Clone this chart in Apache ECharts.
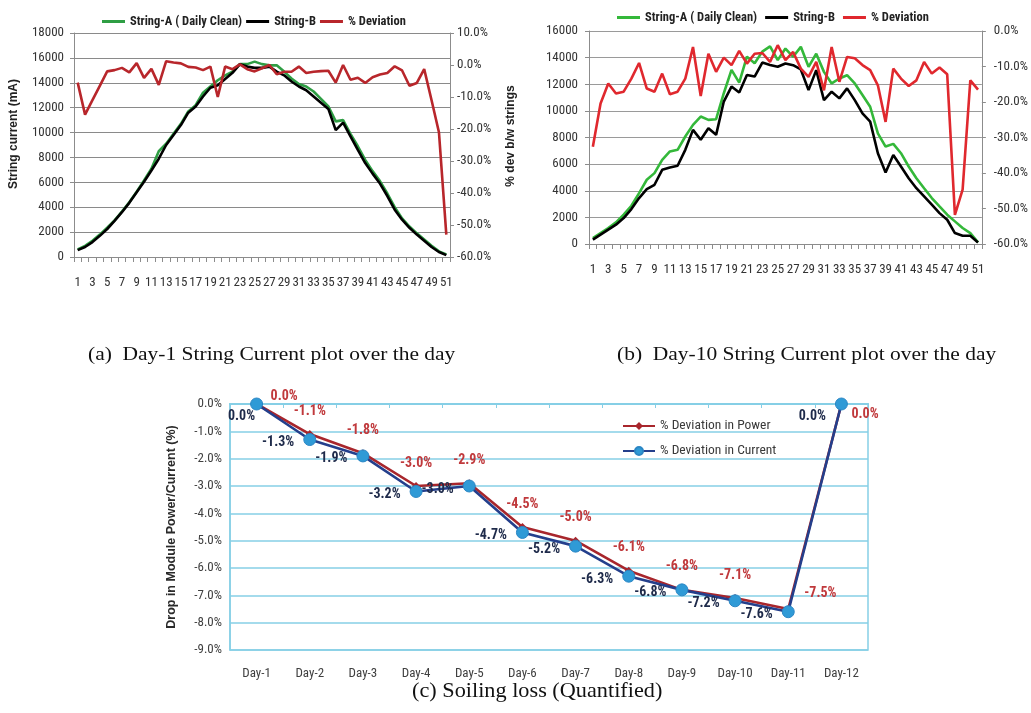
<!DOCTYPE html>
<html>
<head>
<meta charset="utf-8">
<script src="https://cdn.jsdelivr.net/npm/echarts@6/dist/echarts.min.js"></script>
<style>
  html, body { margin:0; padding:0; background:#fff; }
  #wrap { position:relative; width:1031px; height:713px; overflow:hidden; }
  .layer { position:absolute; left:0; top:0; width:1031px; height:713px; }
  .cap { position:absolute; font-family:'Liberation Serif','Times New Roman',serif; color:#111; white-space:nowrap; transform-origin:0 50%; }
</style>
</head>
<body>
<div id="wrap">
  <div id="ca" class="layer"></div>
  <div id="cb" class="layer"></div>
  <div id="cc" class="layer"></div>
  <div class="cap" style="left:88px; top:343px; font-size:19px; transform:scaleX(1.13);">(a)&nbsp; Day-1 String Current plot over the day</div>
  <div class="cap" style="left:617px; top:343px; font-size:19px; transform:scaleX(1.13);">(b)&nbsp; Day-10 String Current plot over the day</div>
  <div class="cap" style="left:412px; top:678px; font-size:21px; transform:scaleX(1.06);">(c) Soiling loss (Quantified)</div>
</div>
<script>
// ---------- data ----------
const timeSlots = ['1','2','3','4','5','6','7','8','9','10','11','12','13','14','15','16','17','18','19','20','21','22','23','24','25','26','27','28','29','30','31','32','33','34','35','36','37','38','39','40','41','42','43','44','45','46','47','48','49','50','51'];

// (a) Day-1
const day1StringA = [600,900,1300,1800,2350,2950,3650,4400,5250,6150,7100,8500,9100,9900,10700,11700,12200,13200,13700,14200,14600,14900,15500,15500,15700,15500,15400,15400,14900,14350,13900,13700,13300,12700,12100,10900,11000,9900,8900,7800,6900,6100,5100,4000,3100,2450,1900,1400,900,450,200];
const day1StringB = [550,800,1200,1700,2250,2900,3600,4350,5200,6050,6950,7900,9000,9800,10600,11600,12100,12900,13600,13800,14300,14800,15500,15300,15200,15200,15300,14900,14600,14100,13700,13400,12900,12400,11900,10200,10800,9700,8600,7550,6700,5900,4900,3800,3000,2350,1800,1300,800,400,150];
const day1Deviation = [-5.5,-15.5,-11,-6.5,-2,-1.6,-0.9,-2.3,0.6,-4,-1.2,-6.2,1.2,0.8,0.5,-0.6,-0.8,-1.6,-0.5,-10,-0.5,-1.3,0.2,-1.3,-2,-1,0,-2.9,-2.1,-2.1,-0.5,-2.5,-2.1,-1.9,-1.8,-5.5,0,-4.6,-4,-5.6,-3.8,-3,-2.5,-0.4,-1.7,-6.5,-5.6,-1.3,-11,-21,-53];

// (b) Day-10
const day10StringA = [450,825,1200,1625,2200,2875,3825,4825,5325,6325,6950,7075,8075,8950,9575,9325,9375,11325,13075,12125,14075,13575,14450,14850,13810,14680,14060,14810,13310,14300,12930,12060,12430,12680,12060,11190,10310,8315,7320,7520,6820,5820,4940,4190,3450,2820,2200,1700,1200,820,120];
const day10StringB = [325,700,1075,1450,1950,2625,3450,4125,4450,5575,5750,5875,7075,8575,7825,8700,8200,10700,11825,11375,12700,12575,13625,13450,13310,13560,13430,13110,11560,13060,10810,11440,10940,11690,10810,9810,9190,6820,5370,6690,5820,4940,4190,3570,2950,2320,1820,820,620,620,120];
const day10Deviation = [-32.6,-20.4,-14.8,-17.6,-17.1,-13.4,-9.0,-16.2,-17.1,-12.0,-17.8,-17.1,-13.4,-4.5,-18.3,-6.4,-11.5,-7.5,-9.6,-5.6,-9.2,-6.4,-6.2,-8.7,-4.0,-8.2,-5.9,-10.6,-12.9,-8.7,-16.7,-4.5,-14.3,-7.3,-7.7,-9.6,-11.0,-15.3,-25.6,-10.6,-13.4,-15.5,-13.9,-8.7,-12.0,-10.3,-12.2,-51.8,-44.7,-13.9,-16.5];

// (c) Soiling loss
const days = ['Day-1','Day-2','Day-3','Day-4','Day-5','Day-6','Day-7','Day-8','Day-9','Day-10','Day-11','Day-12'];
const powerDeviation = [0.0,-1.1,-1.8,-3.0,-2.9,-4.5,-5.0,-6.1,-6.8,-7.1,-7.5,0.0];
const currentDeviation = [0.0,-1.3,-1.9,-3.2,-3.0,-4.7,-5.2,-6.3,-6.8,-7.2,-7.6,0.0];

const leftTicksA = {min:0, max:18000, interval:2000};
const rightTicksA = {min:-60, max:10, interval:10};
const leftTicksB = {min:0, max:16000, interval:2000};
const rightTicksB = {min:-60, max:0, interval:10};
const pctTicksC = {min:-9, max:0, interval:1};

// ---------- styling ----------
const NARROW = "'Liberation Sans Narrow','Arial Narrow','Roboto Condensed','Liberation Sans',sans-serif";
const LABEL = '#333';
const AX = '#8c8c8c';

function stringChart(el, cfg) {
  const chart = echarts.init(document.getElementById(el), null, {renderer:'canvas'});
  const catAxis = {
    type:'category', data: timeSlots, boundaryGap:true,
    axisLine:{lineStyle:{color:AX, width:1}},
    axisTick:{show:true, interval:0, length:5, lineStyle:{color:AX}},
    axisLabel:{interval:1, color:LABEL, fontFamily:NARROW, fontSize:13, margin:cfg.xMargin},
    splitLine:{show:false}
  };
  const leftAxis = Object.assign({
    type:'value', position:'left',
    axisLine:{show:true, lineStyle:{color:AX}},
    axisTick:{show:true, length:4, lineStyle:{color:AX}},
    axisLabel:{color:LABEL, fontFamily:NARROW, fontSize:13, margin:cfg.leftMargin, formatter: v => String(v)},
    splitLine:{show:true, lineStyle:{color:cfg.gridColor, width:1}}
  }, cfg.left);
  const rightAxis = Object.assign({
    type:'value', position:'right',
    axisLine:{show:true, lineStyle:{color:AX}},
    axisTick:{show:true, length:4, lineStyle:{color:AX}},
    axisLabel:{color:LABEL, fontFamily:NARROW, fontSize:13, margin:cfg.rightMargin,
      formatter: v => v.toFixed(1) + '%'},
    splitLine:{show:false}
  }, cfg.right);
  const lineSeries = (name, data, color, yIdx, z) => ({
    name, type:'line', data, yAxisIndex:yIdx, symbol:'none', smooth:false, z,
    lineStyle:{color, width:2.6}, itemStyle:{color}
  });
  chart.setOption({
    animation:false,
    backgroundColor:'transparent',
    grid:{left:cfg.grid[0], top:cfg.grid[1], width:cfg.grid[2], height:cfg.grid[3], containLabel:false},
    legend:{
      left:cfg.legendLeft, top:cfg.legendTop, itemWidth:23, itemHeight:3, itemGap:cfg.legendGap,
      icon:'rect',
      textStyle:{color:'#222', fontFamily:NARROW, fontSize:12.5, fontWeight:'bold'},
      data:['String-A ( Daily Clean)','String-B','% Deviation']
    },
    xAxis: catAxis,
    yAxis: [leftAxis, rightAxis],
    series:[
      lineSeries('String-A ( Daily Clean)', cfg.a, cfg.green, 0, 2),
      lineSeries('String-B', cfg.b, '#000', 0, 3),
      lineSeries('% Deviation', cfg.dev, cfg.red, 1, 4)
    ],
    graphic: cfg.graphic || []
  });
}

stringChart('ca', {
  grid:[74,33,376,224],
  a:day1StringA, b:day1StringB, dev:day1Deviation,
  green:'#2f9e44', red:'#b8262b', gridColor:'#8a8a8a',
  left:leftTicksA, right:rightTicksA,
  xMargin:19, leftMargin:10, rightMargin:7,
  legendLeft:97, legendTop:10, legendGap:4,
  graphic:[
    {type:'text', x:14, y:134, rotation:Math.PI/2,
     style:{text:'String current (mA)', fill:'#222', font:"bold 12px 'Liberation Sans','Open Sans',sans-serif", align:'center', verticalAlign:'middle'}},
    {type:'text', x:511, y:136, rotation:Math.PI/2,
     style:{text:'% dev b/w strings', fill:'#222', font:"bold 12px 'Liberation Sans','Open Sans',sans-serif", align:'center', verticalAlign:'middle'}}
  ]
});

stringChart('cb', {
  grid:[589,31,394,213],
  a:day10StringA, b:day10StringB, dev:day10Deviation,
  green:'#34b83a', red:'#e0282e', gridColor:'#9a9a9a',
  left:leftTicksB, right:rightTicksB,
  xMargin:19, leftMargin:11, rightMargin:12,
  legendLeft:612, legendTop:6, legendGap:8
});

// (c)
(function(){
  const chart = echarts.init(document.getElementById('cc'), null, {renderer:'canvas'});
  const CYAN = '#86cfe6';
  const CFONT = NARROW;
  const fmt = p => p.value.toFixed(1) + '%';
  // label placements (styling only)
  const powerLabelPos = {0:{position:'right', offset:[-2,-8]}, 10:{position:'right', offset:[0,-16]}, 11:{position:'right', offset:[-6,10]}};
  const currentLabelPos = {0:{position:'left', offset:[14,12]}, 11:{position:'left', offset:[0,12]}};
  const mk = (vals, pos) => vals.map((v,i) => pos[i] ? {value:v, label:pos[i]} : v);
  chart.setOption({
    animation:false,
    backgroundColor:'transparent',
    grid:{left:230, top:404, width:638, height:246, show:true, borderColor:CYAN, borderWidth:1.5, backgroundColor:'transparent'},
    legend:{
      orient:'vertical', left:617, top:414, itemWidth:32, itemHeight:10, itemGap:11,
      textStyle:{color:'#3a3a3a', fontFamily:CFONT, fontSize:13.5},
      data:['% Deviation in Power','% Deviation in Current']
    },
    xAxis:[
      {type:'category', data:days, boundaryGap:true, position:'bottom',
       axisLine:{show:true, lineStyle:{color:CYAN, width:2}}, axisTick:{show:false},
       axisLabel:{color:'#404040', fontFamily:CFONT, fontSize:13, margin:17}},
      {type:'category', data:days, boundaryGap:true, position:'top',
       axisLine:{show:true, lineStyle:{color:CYAN, width:1.5}},
       axisTick:{show:true, inside:true, length:4, lineStyle:{color:CYAN}},
       axisLabel:{show:false}}
    ],
    yAxis:{
      type:'value', min:pctTicksC.min, max:pctTicksC.max, interval:pctTicksC.interval,
      axisLine:{show:true, lineStyle:{color:CYAN, width:1.5}},
      axisTick:{show:false},
      axisLabel:{color:'#404040', fontFamily:CFONT, fontSize:13, margin:8, formatter:v => v.toFixed(1) + '%'},
      splitLine:{show:true, lineStyle:{color:CYAN, width:1.5}},
      name:'Drop in Module Power/Current (%)', nameLocation:'middle', nameGap:52, nameRotate:90,
      nameTextStyle:{color:'#2a2a2a', fontFamily:"'Liberation Sans','Open Sans',sans-serif", fontSize:12.5, fontWeight:'bold'}
    },
    series:[
      {name:'% Deviation in Power', type:'line', xAxisIndex:0, data:mk(powerDeviation, powerLabelPos),
       symbol:'diamond', symbolSize:8, z:3,
       lineStyle:{color:'#a8262c', width:2.6}, itemStyle:{color:'#a8262c'},
       label:{show:true, position:'top', distance:12, formatter:fmt, color:'#c0393c', fontFamily:CFONT, fontSize:14, fontWeight:'bold'}},
      {name:'% Deviation in Current', type:'line', xAxisIndex:0, data:mk(currentDeviation, currentLabelPos),
       symbol:'circle', symbolSize:12, z:4,
       lineStyle:{color:'#243f8c', width:2.6}, itemStyle:{color:'#2f9ad6', borderColor:'#2b86c4', borderWidth:1},
       label:{show:true, position:'left', distance:9, offset:[0,3], formatter:fmt, color:'#1e2a4a', fontFamily:CFONT, fontSize:14, fontWeight:'bold'}}
    ]
  });
})();
</script>
</body>
</html>
